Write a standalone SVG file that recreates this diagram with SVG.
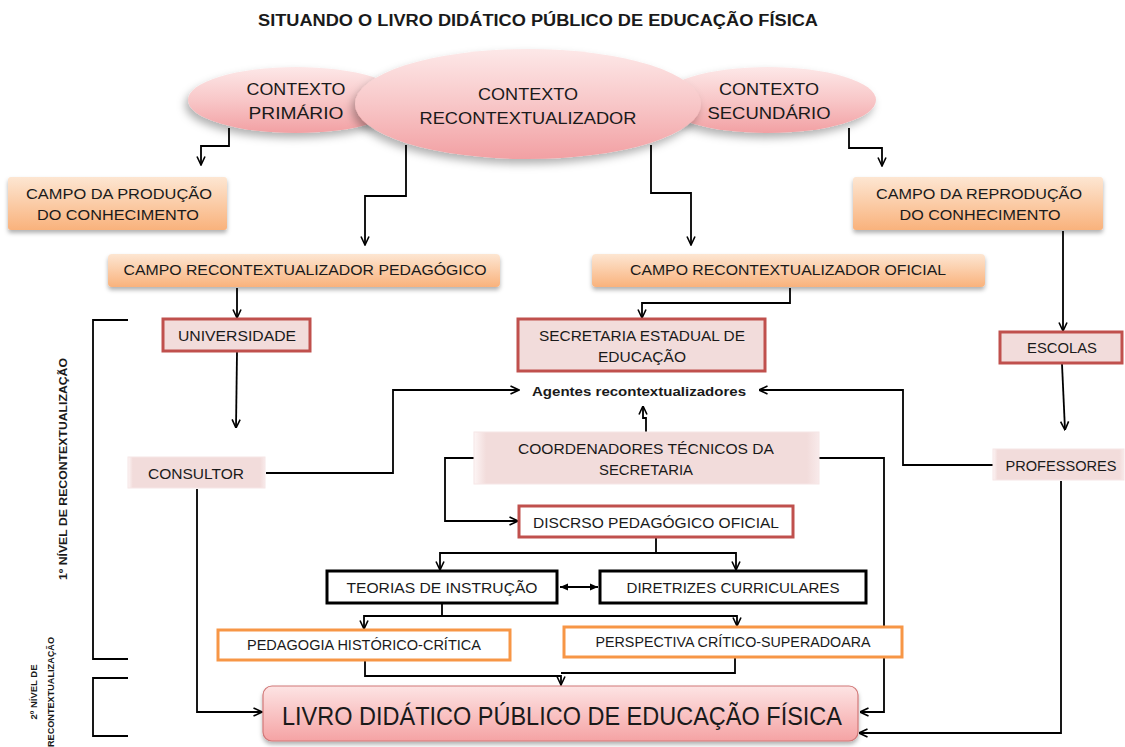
<svg xmlns="http://www.w3.org/2000/svg" width="1125" height="747" viewBox="0 0 1125 747">
<defs>
<style>
text{font-family:"Liberation Sans",Arial,sans-serif;fill:#1a1a1a;}
.t15{font-size:15px;}
.t14{font-size:14px;}
.t17{font-size:17px;}
.c{text-anchor:middle;}
.ln{fill:none;stroke:#000;stroke-width:1.8;}
.org{fill:url(#gOrange);filter:url(#sh);}
.red{fill:#f2dcdb;stroke:#c0504d;stroke-width:3;}
.bev{fill:url(#gBevel);stroke:#f6e6e6;stroke-width:1;}
.blk{fill:#fff;stroke:#000;stroke-width:3;}
.ob{fill:#fff;stroke:#f79646;stroke-width:3;}
.ell{fill:url(#gPink);filter:url(#shE);}
</style>
<linearGradient id="gPink" x1="0" y1="0" x2="0" y2="1">
<stop offset="0" stop-color="#fde8e8"/>
<stop offset="0.5" stop-color="#f8c7c8"/>
<stop offset="1" stop-color="#f2a0a3"/>
</linearGradient>
<linearGradient id="gLivro" x1="0" y1="0" x2="0" y2="1">
<stop offset="0" stop-color="#fde4e4"/>
<stop offset="1" stop-color="#f5a3a4"/>
</linearGradient>
<linearGradient id="gOrange" x1="0" y1="0" x2="0" y2="1">
<stop offset="0" stop-color="#fde6d2"/>
<stop offset="1" stop-color="#f9b27c"/>
</linearGradient>
<linearGradient id="gBevel" x1="0" y1="0" x2="1" y2="0">
<stop offset="0" stop-color="#fdf5f5"/>
<stop offset="0.035" stop-color="#f2dcdb"/>
<stop offset="0.965" stop-color="#f2dcdb"/>
<stop offset="1" stop-color="#f8eaea"/>
</linearGradient>
<filter id="sh" x="-10%" y="-20%" width="120%" height="160%">
<feDropShadow dx="0" dy="3" stdDeviation="2" flood-color="#000" flood-opacity="0.3"/>
</filter>
<filter id="shE" x="-20%" y="-20%" width="140%" height="160%">
<feDropShadow dx="-3" dy="5" stdDeviation="4" flood-color="#000" flood-opacity="0.3"/>
</filter>
<marker id="arr" viewBox="0 0 10 10" refX="9.5" refY="5" markerWidth="10" markerHeight="10" markerUnits="userSpaceOnUse" orient="auto">
<path d="M1,1 L9.5,5 L1,9" fill="none" stroke="#000" stroke-width="1.6"/>
</marker>
<marker id="fa" viewBox="0 0 10 10" refX="9" refY="5" markerWidth="9" markerHeight="9" markerUnits="userSpaceOnUse" orient="auto-start-reverse">
<path d="M0,1 L9,5 L0,9 Z" fill="#000"/>
</marker>
</defs>
<rect width="1125" height="747" fill="#fff"/>

<text x="538" y="26" class="c" style="font-size:16px;font-weight:bold" textLength="560" lengthAdjust="spacingAndGlyphs">SITUANDO O LIVRO DIDÁTICO PÚBLICO DE EDUCAÇÃO FÍSICA</text>

<g id="connectors">
<path class="ln" d="M229,128 V146 H201 V165" marker-end="url(#arr)"/>
<path class="ln" d="M406,145 V196 H365 V245" marker-end="url(#arr)"/>
<path class="ln" d="M651,145 V193 H691 V245" marker-end="url(#arr)"/>
<path class="ln" d="M849,128 V148 H882 V166" marker-end="url(#arr)"/>
<path class="ln" d="M237,288 V318" marker-end="url(#arr)"/>
<path class="ln" d="M790,288 V303 H642 V318" marker-end="url(#arr)"/>
<path class="ln" d="M1063,231 V331" marker-end="url(#arr)"/>
<path class="ln" d="M237,352 L236,428" marker-end="url(#arr)"/>
<path class="ln" d="M1062,364 L1065,430" marker-end="url(#arr)"/>
<path class="ln" d="M266,473 H393 V390 H519" marker-end="url(#arr)"/>
<path class="ln" d="M993,465 H903 V390 H759" marker-end="url(#arr)"/>
<path class="ln" d="M646,432 V418 H643 V406" marker-end="url(#arr)"/>
<path class="ln" d="M474,458 H445 V521 H518" marker-end="url(#arr)"/>
<path class="ln" d="M819,458 H884 V712 H860" marker-end="url(#arr)"/>
<path class="ln" d="M197,489 V712 H262" marker-end="url(#arr)"/>
<path class="ln" d="M1061,481 V733 H859" marker-end="url(#arr)"/>
<path class="ln" d="M656,538 V553 H440 V570" marker-end="url(#arr)"/>
<path class="ln" d="M656,553 H736 V570" marker-end="url(#arr)"/>
<path class="ln" d="M560,587 H598" marker-start="url(#fa)" marker-end="url(#fa)"/>
<path class="ln" d="M442,604 V616 H364 V629" marker-end="url(#arr)"/>
<path class="ln" d="M442,616 H737 V626" marker-end="url(#arr)"/>
<path class="ln" d="M365,661 V676 H561 V685" marker-end="url(#arr)"/>
<path class="ln" d="M735,658 V673 H561"/>
<path class="ln" d="M128,320 H93 V659 H128"/>
<path class="ln" d="M128,678 H93 V736 H128"/>
</g>

<g id="side-labels" style="font-weight:bold">
<text transform="translate(67,469) rotate(-90)" class="c" style="font-size:11px" textLength="222" lengthAdjust="spacingAndGlyphs">1º NÍVEL DE RECONTEXTUALIZAÇÃO</text>
<text transform="translate(37,692) rotate(-90)" class="c" style="font-size:9px" textLength="55" lengthAdjust="spacingAndGlyphs">2º NÍVEL DE</text>
<text transform="translate(54,692) rotate(-90)" class="c" style="font-size:9px" textLength="110" lengthAdjust="spacingAndGlyphs">RECONTEXTUALIZAÇÃO</text>
</g>

<g id="contexto-primario">
<ellipse class="ell" cx="296" cy="100" rx="108" ry="33"/>
<text x="296" y="95" class="c t17" textLength="99" lengthAdjust="spacingAndGlyphs">CONTEXTO</text>
<text x="296" y="119" class="c t17" textLength="95" lengthAdjust="spacingAndGlyphs">PRIMÁRIO</text>
</g>
<g id="contexto-secundario">
<ellipse class="ell" cx="768" cy="100" rx="108" ry="33"/>
<text x="769" y="95" class="c t17" textLength="100" lengthAdjust="spacingAndGlyphs">CONTEXTO</text>
<text x="769" y="119" class="c t17" textLength="123" lengthAdjust="spacingAndGlyphs">SECUNDÁRIO</text>
</g>
<g id="contexto-recontextualizador">
<ellipse class="ell" cx="528" cy="104" rx="173" ry="55"/>
<text x="528" y="100" class="c t17" textLength="100" lengthAdjust="spacingAndGlyphs">CONTEXTO</text>
<text x="528" y="124" class="c t17" textLength="217" lengthAdjust="spacingAndGlyphs">RECONTEXTUALIZADOR</text>
</g>

<g id="campo-producao">
<rect class="org" x="8" y="177" width="219" height="53" rx="3"/>
<text x="119" y="199" class="c t15" textLength="186" lengthAdjust="spacingAndGlyphs">CAMPO DA PRODUÇÃO</text>
<text x="118" y="220" class="c t15" textLength="162" lengthAdjust="spacingAndGlyphs">DO CONHECIMENTO</text>
</g>
<g id="campo-reproducao">
<rect class="org" x="853" y="177" width="250" height="53" rx="3"/>
<text x="979" y="199" class="c t15" textLength="206" lengthAdjust="spacingAndGlyphs">CAMPO DA REPRODUÇÃO</text>
<text x="980" y="220" class="c t15" textLength="161" lengthAdjust="spacingAndGlyphs">DO CONHECIMENTO</text>
</g>
<g id="campo-pedagogico">
<rect class="org" x="108" y="254" width="392" height="33" rx="4"/>
<text x="305" y="275" class="c t15" textLength="363" lengthAdjust="spacingAndGlyphs">CAMPO RECONTEXTUALIZADOR PEDAGÓGICO</text>
</g>
<g id="campo-oficial">
<rect class="org" x="592" y="254" width="393" height="33" rx="4"/>
<text x="788" y="275" class="c t15" textLength="316" lengthAdjust="spacingAndGlyphs">CAMPO RECONTEXTUALIZADOR OFICIAL</text>
</g>

<g id="universidade">
<rect class="red" x="163" y="319" width="147" height="32"/>
<text x="237" y="341" class="c t15" textLength="118" lengthAdjust="spacingAndGlyphs">UNIVERSIDADE</text>
</g>
<g id="secretaria">
<rect class="red" x="518" y="319" width="247" height="52"/>
<text x="642" y="341" class="c t15" textLength="206" lengthAdjust="spacingAndGlyphs">SECRETARIA ESTADUAL DE</text>
<text x="642" y="362" class="c t15" textLength="88" lengthAdjust="spacingAndGlyphs">EDUCAÇÃO</text>
</g>
<g id="escolas">
<rect class="red" x="1000" y="332" width="122" height="31"/>
<text x="1062" y="353" class="c t15" textLength="70" lengthAdjust="spacingAndGlyphs">ESCOLAS</text>
</g>

<g id="agentes">
<text x="639" y="396" class="c" style="font-size:13px;font-weight:bold" textLength="214" lengthAdjust="spacingAndGlyphs">Agentes recontextualizadores</text>
</g>

<g id="consultor">
<rect class="bev" x="128" y="457" width="137" height="31"/>
<text x="196" y="479" class="c t15" textLength="96" lengthAdjust="spacingAndGlyphs">CONSULTOR</text>
</g>
<g id="coordenadores">
<rect class="bev" x="474" y="432" width="345" height="52"/>
<text x="646" y="454" class="c t15" textLength="256" lengthAdjust="spacingAndGlyphs">COORDENADORES TÉCNICOS DA</text>
<text x="646" y="475" class="c t15" textLength="94" lengthAdjust="spacingAndGlyphs">SECRETARIA</text>
</g>
<g id="professores">
<rect class="bev" x="993" y="449" width="131" height="31"/>
<text x="1061" y="471" class="c t15" textLength="111" lengthAdjust="spacingAndGlyphs">PROFESSORES</text>
</g>

<g id="discurso">
<rect class="red" x="519" y="506" width="274" height="31" style="fill:#fff"/>
<text x="656" y="528" class="c t15" textLength="246" lengthAdjust="spacingAndGlyphs">DISCRSO PEDAGÓGICO OFICIAL</text>
</g>
<g id="teorias">
<rect class="blk" x="327" y="571" width="230" height="32"/>
<text x="442" y="593" class="c t15" textLength="191" lengthAdjust="spacingAndGlyphs">TEORIAS DE INSTRUÇÃO</text>
</g>
<g id="diretrizes">
<rect class="blk" x="600" y="571" width="266" height="32"/>
<text x="733" y="593" class="c t15" textLength="213" lengthAdjust="spacingAndGlyphs">DIRETRIZES CURRICULARES</text>
</g>
<g id="pedagogia">
<rect class="ob" x="218" y="630" width="292" height="30"/>
<text x="364" y="650" class="c t14" textLength="234" lengthAdjust="spacingAndGlyphs">PEDAGOGIA HISTÓRICO-CRÍTICA</text>
</g>
<g id="perspectiva">
<rect class="ob" x="564" y="627" width="338" height="30"/>
<text x="733" y="647" class="c t14" textLength="275" lengthAdjust="spacingAndGlyphs">PERSPECTIVA CRÍTICO-SUPERADOARA</text>
</g>

<g id="livro">
<rect x="263" y="686" width="595" height="55" rx="9" fill="url(#gLivro)" stroke="#d27878" stroke-width="1.2" filter="url(#sh)"/>
<text x="562" y="725" class="c" style="font-size:26px" textLength="560" lengthAdjust="spacingAndGlyphs">LIVRO DIDÁTICO PÚBLICO DE EDUCAÇÃO FÍSICA</text>
</g>
</svg>
